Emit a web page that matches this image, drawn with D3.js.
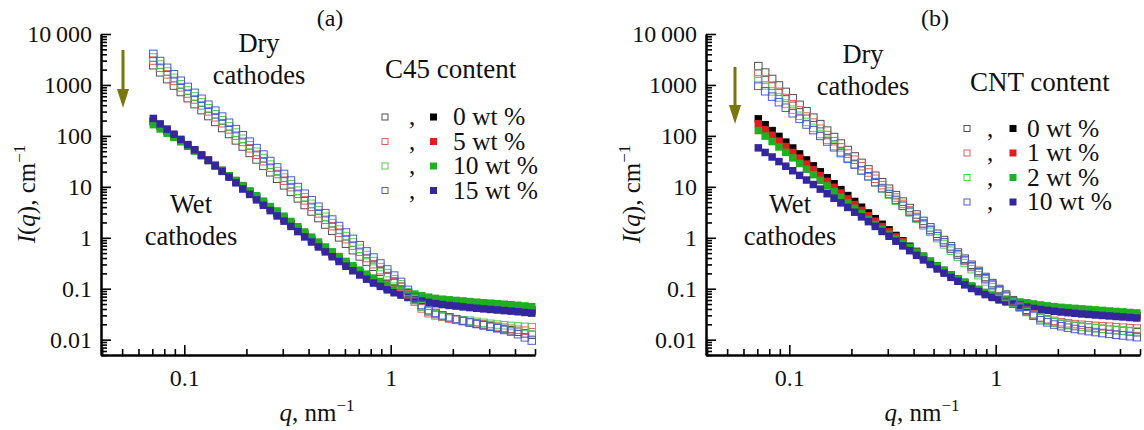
<!DOCTYPE html>
<html>
<head>
<meta charset="utf-8">
<script src="https://cdn.jsdelivr.net/npm/d3@7"></script>
<style>
  body { margin: 0; background: #fff; }
  svg { display: block; }
  svg text { font-family: "Liberation Serif", "Tinos", "Times New Roman", "DejaVu Serif", serif; }
</style>
</head>
<body>
<svg id="chart" width="1144" height="430"></svg>
<script>
// Scattering vector q, nm^-1 (shared by every curve)
const qValues = [0.0708,0.0764,0.0826,0.0891,0.0962,0.1039,0.1122,0.1212,0.1308,0.1413,
  0.1526,0.1648,0.1778,0.1920,0.2074,0.2239,0.2418,0.2610,0.2818,0.3043,
  0.3286,0.3548,0.3831,0.4137,0.4467,0.4823,0.5208,0.5623,0.6072,0.6556,
  0.7079,0.7644,0.8254,0.8913,0.9624,1.039,1.122,1.212,1.308,1.413,
  1.526,1.648,1.778,1.920,2.074,2.239,2.418,2.610,2.818,3.043,
  3.286,3.548,3.831,4.137,4.467,4.823];

// (a) C45 content — dry cathodes, I(q), cm^-1
const dryC45_0 = [2440,1770,1300,972,726,550,420,321,245,188,
  143,109,81.6,61.8,46.3,34.5,25.8,19.3,14.4,10.7,
  7.98,5.93,4.40,3.28,2.44,1.82,1.37,1.02,0.762,0.571,
  0.430,0.340,0.270,0.216,0.172,0.138,0.109,0.082,0.060,0.045,
  0.036,0.0320,0.0292,0.0270,0.0250,0.0234,0.0219,0.0205,0.0193,0.0182,
  0.0172,0.0162,0.0153,0.0143,0.0133,0.0125];
const dryC45_5 = [3010,2180,1610,1200,895,678,518,396,303,232,
  177,134,101,76.2,57.1,42.6,31.8,23.8,17.8,13.2,
  9.84,7.32,5.42,4.04,3.01,2.25,1.69,1.26,0.940,0.704,
  0.530,0.400,0.303,0.232,0.177,0.134,0.109,0.078,0.056,0.041,
  0.033,0.030,0.028,0.026,0.0245,0.0232,0.0222,0.0211,0.0201,0.0190,
  0.0181,0.0172,0.0164,0.0157,0.0150,0.0140];
const dryC45_10 = [3460,2510,1840,1380,1030,779,595,455,348,266,
  203,154,116,87.6,65.5,48.9,36.6,27.3,20.4,15.2,
  11.3,8.41,6.23,4.64,3.46,2.58,1.94,1.45,1.08,0.808,
  0.609,0.459,0.348,0.266,0.203,0.154,0.122,0.086,0.062,0.045,
  0.036,0.032,0.029,0.027,0.025,0.024,0.0236,0.0224,0.0214,0.0205,
  0.0198,0.0192,0.0186,0.0182,0.0178,0.0176];
const dryC45_15 = [4070,2950,2170,1620,1210,916,700,535,409,313,
  239,181,136,103,77.1,57.5,43.0,32.1,24.0,17.9,
  13.3,9.89,7.33,5.46,4.07,3.04,2.28,1.70,1.27,0.951,
  0.716,0.540,0.409,0.313,0.239,0.181,0.136,0.095,0.068,0.048,
  0.038,0.0335,0.0300,0.0275,0.0253,0.0234,0.0217,0.0203,0.0191,0.0179,
  0.0167,0.0155,0.0144,0.0128,0.0111,0.0096];

// (a) C45 content — wet cathodes
const wetC45_0 = [191,154,124,100,80.7,64.9,51.9,41.5,33.1,26.3,
  20.9,16.5,13.0,10.3,8.07,6.31,4.93,3.87,3.05,2.41,
  1.90,1.50,1.18,0.938,0.750,0.600,0.482,0.389,0.314,0.256,
  0.211,0.175,0.147,0.126,0.108,0.0948,0.0851,0.0764,0.0700,0.0653,
  0.0610,0.0578,0.0556,0.0535,0.0516,0.0501,0.0486,0.0473,0.0462,0.0452,
  0.0442,0.0432,0.0422,0.0410,0.0398,0.0386];
const wetC45_5 = [195,157,126,102,82.3,66.2,52.9,42.3,33.8,26.3,
  20.9,16.5,13.0,10.3,8.07,6.06,4.73,3.72,2.93,2.31,
  1.82,1.44,1.13,0.900,0.720,0.576,0.463,0.373,0.301,0.246,
  0.203,0.168,0.141,0.121,0.104,0.0910,0.0791,0.0711,0.0651,0.0607,
  0.0567,0.0538,0.0517,0.0498,0.0480,0.0466,0.0452,0.0440,0.0430,0.0420,
  0.0411,0.0402,0.0392,0.0381,0.0370,0.0359];
const wetC45_10 = [166,137,113,93.0,76.7,62.3,50.3,40.7,32.8,26.3,
  20.9,16.5,13.4,10.6,8.31,6.69,5.23,4.10,3.36,2.65,
  2.09,1.65,1.30,1.03,0.825,0.660,0.530,0.428,0.345,0.282,
  0.232,0.193,0.162,0.139,0.119,0.104,0.0953,0.0856,0.0784,0.0731,
  0.0683,0.0647,0.0623,0.0605,0.0590,0.0576,0.0559,0.0544,0.0531,0.0520,
  0.0508,0.0497,0.0485,0.0472,0.0458,0.0444];
const wetC45_15 = [220,172,136,108,85.5,67.5,53.5,41.9,33.1,25.8,
  20.1,15.5,12.0,9.06,7.10,5.55,4.34,3.41,2.68,2.12,
  1.67,1.32,1.04,0.825,0.660,0.528,0.424,0.342,0.276,0.225,
  0.186,0.154,0.129,0.111,0.0950,0.0834,0.0749,0.0672,0.0616,0.0575,
  0.0537,0.0509,0.0489,0.0471,0.0456,0.0440,0.0426,0.0413,0.0402,0.0392,
  0.0382,0.0372,0.0363,0.0353,0.0342,0.0332];

// (b) CNT content — dry cathodes
const dryCNT_0 = [2340,1750,1310,977,729,546,407,304,228,170,
  127,94.8,70.8,52.8,39.5,29.5,22.0,16.5,12.3,9.18,
  6.87,5.13,3.83,2.86,2.14,1.60,1.20,0.902,0.679,0.513,
  0.389,0.295,0.224,0.170,0.129,0.0989,0.0767,0.0596,0.0473,0.0385,
  0.0313,0.0268,0.0243,0.0220,0.0204,0.0195,0.0186,0.0179,0.0174,0.0169,
  0.0163,0.0158,0.0154,0.0149,0.0145,0.0140];
const dryCNT_1 = [1680,1280,969,733,554,420,317,240,182,138,
  104,78.7,59.5,44.9,34.0,25.4,19.1,14.4,10.8,8.08,
  6.18,4.62,3.45,2.57,1.93,1.44,1.08,0.812,0.611,0.462,
  0.350,0.266,0.202,0.153,0.116,0.0940,0.0729,0.0566,0.0449,0.0366,
  0.0313,0.0275,0.0252,0.0234,0.0220,0.0209,0.0202,0.0196,0.0191,0.0186,
  0.0183,0.0180,0.0176,0.0172,0.0168,0.0165];
const dryCNT_2 = [1290,980,747,567,430,328,248,188,144,109,
  83.8,63.5,48.1,37.0,28.0,21.2,16.1,12.2,9.23,7.07,
  5.36,4.21,3.14,2.35,1.75,1.31,0.984,0.740,0.557,0.421,
  0.319,0.242,0.184,0.139,0.106,0.0890,0.0690,0.0536,0.0426,0.0347,
  0.0298,0.0262,0.0238,0.0219,0.0204,0.0194,0.0186,0.0179,0.0173,0.0168,
  0.0163,0.0159,0.0155,0.0151,0.0148,0.0145];
const dryCNT_10 = [959,753,590,459,357,278,216,167,130,100,
  77.5,59.7,46.0,35.4,27.3,20.9,16.1,12.4,9.47,7.25,
  5.56,4.26,3.26,2.46,1.86,1.41,1.07,0.812,0.618,0.472,
  0.366,0.277,0.211,0.160,0.121,0.0930,0.0721,0.0560,0.0445,0.0362,
  0.0294,0.0241,0.0219,0.0198,0.0184,0.0172,0.0162,0.0154,0.0147,0.0141,
  0.0135,0.0130,0.0125,0.0121,0.0117,0.0112];

// (b) CNT content — wet cathodes
const wetCNT_0 = [216,165,127,97.7,75.3,57.8,44.2,33.7,25.8,19.7,
  15.1,11.5,8.81,6.73,5.16,3.98,3.07,2.37,1.84,1.43,
  1.11,0.871,0.681,0.540,0.432,0.345,0.280,0.229,0.187,0.156,
  0.132,0.111,0.0955,0.0832,0.0724,0.0646,0.0589,0.0537,0.0499,0.0473,
  0.0449,0.0429,0.0412,0.0396,0.0385,0.0376,0.0367,0.0359,0.0351,0.0343,
  0.0335,0.0327,0.0320,0.0313,0.0305,0.0299];
const wetCNT_1 = [173,132,103,79.1,61.7,47.4,36.7,28.0,21.7,16.5,
  12.8,9.78,7.58,5.79,4.49,3.46,2.70,2.11,1.66,1.32,
  1.04,0.836,0.654,0.518,0.415,0.331,0.269,0.220,0.180,0.150,
  0.127,0.107,0.0917,0.0799,0.0695,0.0620,0.0577,0.0526,0.0489,0.0464,
  0.0440,0.0420,0.0404,0.0388,0.0377,0.0368,0.0360,0.0352,0.0344,0.0336,
  0.0328,0.0320,0.0314,0.0307,0.0299,0.0293];
const wetCNT_2 = [127,99.0,77.5,60.6,47.4,37.0,28.7,22.2,17.3,13.4,
  10.4,8.05,6.26,4.85,3.77,2.95,2.30,1.82,1.45,1.17,
  0.955,0.784,0.640,0.524,0.432,0.345,0.280,0.229,0.187,0.156,
  0.135,0.113,0.0974,0.0849,0.0767,0.0685,0.0624,0.0580,0.0550,0.0530,
  0.0503,0.0480,0.0461,0.0444,0.0431,0.0421,0.0411,0.0402,0.0393,0.0384,
  0.0375,0.0366,0.0358,0.0351,0.0342,0.0335];
const wetCNT_10 = [58.2,47.3,38.5,31.3,25.4,20.7,16.8,13.6,11.1,9.02,
  7.33,5.96,4.84,3.94,3.18,2.57,2.07,1.67,1.33,1.07,
  0.857,0.692,0.558,0.452,0.367,0.299,0.244,0.202,0.167,0.140,
  0.119,0.101,0.0875,0.0767,0.0673,0.0603,0.0550,0.0501,0.0465,0.0437,
  0.0410,0.0391,0.0376,0.0361,0.0349,0.0339,0.0329,0.0320,0.0313,0.0305,
  0.0299,0.0292,0.0285,0.0279,0.0272,0.0266];

// Legend entries and axis ticks
const c45Labels = ["0 wt %", "5 wt %", "10 wt %", "15 wt %"];
const cntLabels = ["0 wt %", "1 wt %", "2 wt %", "10 wt %"];
const yMajorTicks = [0.01, 0.1, 1, 10, 100, 1000, 10000];
const yTickLabels = ["0.01", "0.1", "1", "10", "100", "1000", "10\u2009000"];
const xMajorTicks = [0.1, 1];
const xTickLabels = ["0.1", "1"];
const xMinorTicks = [0.04,0.05,0.06,0.07,0.08,0.09,0.2,0.3,0.4,0.5,0.6,0.7,0.8,0.9,2,3,4,5];

const openColors = ["#505050", "#d8605e", "#55cc55", "#4c5bcf"];
const fillColors = ["#000000", "#e11d1d", "#22ad22", "#34279e"];

const yMinorTicks = [];
[0.001, 0.01, 0.1, 1, 10, 100, 1000].forEach(d => {
  for (let k = 2; k <= 9; k++) {
    const v = d * k;
    if (v >= 0.005 && v <= 10000) yMinorTicks.push(v);
  }
});

const svg = d3.select("#chart");
const plotW = 434, plotTop = 34, plotBottom = 355;
const serif = '"Liberation Serif", "Tinos", "Times New Roman", "DejaVu Serif", serif';
const rowStep = 24.5;

const panels = [
  {
    x0: 101, tag: "(a)", legendTitle: "C45 content", labels: c45Labels,
    dry: [dryC45_0, dryC45_5, dryC45_10, dryC45_15],
    wet: [wetC45_0, wetC45_5, wetC45_10, wetC45_15],
    dryText: [158, 52], wetText: [90, 213], arrow: [22, 50, 108],
    legend: { titleX: 284, titleY: 78, rowY: 117, openX: 284, commaX: 308, fillX: 332.5, textX: 352 }
  },
  {
    x0: 706, tag: "(b)", legendTitle: "CNT content", labels: cntLabels,
    dry: [dryCNT_0, dryCNT_1, dryCNT_2, dryCNT_10],
    wet: [wetCNT_0, wetCNT_1, wetCNT_2, wetCNT_10],
    dryText: [157, 63], wetText: [84, 213], arrow: [29, 67, 124],
    legend: { titleX: 264, titleY: 91, rowY: 128.5, openX: 261, commaX: 281, fillX: 307, textX: 321 }
  }
];

function styleAxis(sel) {
  sel.attr("font-family", null).attr("font-size", null);
  sel.select(".domain").attr("stroke", "#000").attr("stroke-width", 2);
  sel.selectAll(".tick line").attr("stroke", "#000").attr("stroke-width", 1.6);
  sel.selectAll(".tick text").attr("fill", "#111")
    .style("font-family", serif).style("font-size", "24px");
}

function drawPanel(p) {
  const x = d3.scaleLog().domain([0.0395, 5]).range([p.x0, p.x0 + plotW]);
  const y = d3.scaleLog().domain([0.005, 10000]).range([plotBottom, plotTop]);
  const g = svg.append("g");

  // axes: minor ticks first, then major ticks with labels
  g.append("g").attr("transform", `translate(${p.x0},0)`)
    .call(d3.axisLeft(y).tickValues(yMinorTicks).tickSize(-6).tickSizeOuter(0).tickFormat(""))
    .call(styleAxis);
  g.append("g").attr("transform", `translate(${p.x0},0)`)
    .call(d3.axisLeft(y).tickValues(yMajorTicks).tickSize(-10).tickSizeOuter(0).tickPadding(9)
      .tickFormat((d, i) => yTickLabels[i]))
    .call(styleAxis);
  g.append("g").attr("transform", `translate(0,${plotBottom})`)
    .call(d3.axisBottom(x).tickValues(xMinorTicks).tickSize(-6).tickSizeOuter(0).tickFormat(""))
    .call(styleAxis);
  g.append("g").attr("transform", `translate(0,${plotBottom})`)
    .call(d3.axisBottom(x).tickValues(xMajorTicks).tickSize(-10).tickSizeOuter(0).tickPadding(14)
      .tickFormat((d, i) => xTickLabels[i]))
    .call(styleAxis);

  // wet cathodes: filled squares
  p.wet.forEach((vals, i) => {
    g.append("g").selectAll("rect")
      .data(qValues.map((q, k) => [q, vals[k]]))
      .join("rect")
      .attr("x", d => x(d[0]) - 3.75).attr("y", d => y(d[1]) - 3.75)
      .attr("width", 7.5).attr("height", 7.5)
      .attr("fill", fillColors[i]);
  });
  // dry cathodes: open squares
  p.dry.forEach((vals, i) => {
    g.append("g").selectAll("rect")
      .data(qValues.map((q, k) => [q, vals[k]]))
      .join("rect")
      .attr("x", d => x(d[0]) - 3.75).attr("y", d => y(d[1]) - 3.75)
      .attr("width", 7.5).attr("height", 7.5)
      .attr("fill", "none").attr("stroke", openColors[i]).attr("stroke-width", 1);
  });

  // axis titles
  const yl = g.append("text")
    .attr("transform", `translate(${p.x0 - 66},194) rotate(-90)`)
    .attr("text-anchor", "middle").style("font-size", "25px").attr("fill", "#111");
  yl.append("tspan").style("font-style", "italic").text("I");
  yl.append("tspan").text("(");
  yl.append("tspan").style("font-style", "italic").text("q");
  yl.append("tspan").text("), cm");
  yl.append("tspan").style("font-size", "17px").attr("dy", -10).text("\u22121");

  const xl = g.append("text")
    .attr("transform", `translate(${p.x0 + 216},421)`)
    .attr("text-anchor", "middle").style("font-size", "25px").attr("fill", "#111");
  xl.append("tspan").style("font-style", "italic").text("q");
  xl.append("tspan").text(", nm");
  xl.append("tspan").style("font-size", "17px").attr("dy", -10).text("\u22121");

  // panel tag
  g.append("text").attr("x", p.x0 + 229).attr("y", 26).attr("text-anchor", "middle")
    .style("font-size", "24px").attr("fill", "#111").text(p.tag);

  // annotations
  const ann = (cx, by, lines) => lines.forEach((t, i) =>
    g.append("text").attr("x", p.x0 + cx).attr("y", by + i * 31.5).attr("text-anchor", "middle")
      .style("font-size", "26.5px").attr("fill", "#111").text(t));
  ann(p.dryText[0], p.dryText[1], ["Dry", "cathodes"]);
  ann(p.wetText[0], p.wetText[1], ["Wet", "cathodes"]);

  // downward arrow
  const [ax, ay0, ay1] = p.arrow;
  const arrowColor = "#77770c";
  g.append("line").attr("x1", p.x0 + ax).attr("x2", p.x0 + ax)
    .attr("y1", ay0).attr("y2", ay1 - 14)
    .attr("stroke", arrowColor).attr("stroke-width", 3);
  g.append("path")
    .attr("d", `M${p.x0 + ax - 6},${ay1 - 19} L${p.x0 + ax + 6},${ay1 - 19} L${p.x0 + ax},${ay1} Z`)
    .attr("fill", arrowColor);

  // legend: symbols per row, commas and labels as stacked lines of one text block each
  const L = p.legend;
  g.append("text").attr("x", p.x0 + L.titleX).attr("y", L.titleY)
    .style("font-size", "27px").attr("fill", "#111").text(p.legendTitle);
  p.labels.forEach((lab, i) => {
    const cy = L.rowY + i * rowStep;
    g.append("rect").attr("x", p.x0 + L.openX - 3).attr("y", cy - 3)
      .attr("width", 6).attr("height", 6).attr("fill", "none")
      .attr("stroke", openColors[i]).attr("stroke-width", 1);
    g.append("rect").attr("x", p.x0 + L.fillX - 3.5).attr("y", cy - 3.5)
      .attr("width", 7).attr("height", 7).attr("fill", fillColors[i]);
  });
  const commas = g.append("text").attr("y", L.rowY + 8)
    .style("font-size", "25px").attr("fill", "#111");
  p.labels.forEach((lab, i) => {
    commas.append("tspan").attr("x", p.x0 + L.commaX).attr("dy", i === 0 ? 0 : rowStep).text(",");
  });
  const labelBlock = g.append("text").attr("y", L.rowY + 8)
    .style("font-size", "25.5px").attr("fill", "#111");
  p.labels.forEach((lab, i) => {
    labelBlock.append("tspan").attr("x", p.x0 + L.textX).attr("dy", i === 0 ? 0 : rowStep).text(lab);
  });
}

panels.forEach(drawPanel);
</script>
</body>
</html>
